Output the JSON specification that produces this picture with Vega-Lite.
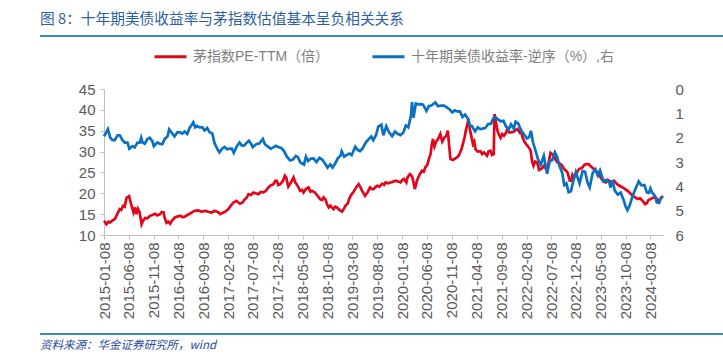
{
  "$schema": "https://vega.github.io/schema/vega-lite/v6.json",
  "padding": {"left": 40, "top": 12, "right": 0, "bottom": 0},
  "background": "white",
  "config": {
    "font": "Liberation Sans, Noto Sans CJK SC",
    "view": {"stroke": null},
    "axis": {"grid": false, "labelFont": "Liberation Sans, Noto Sans CJK SC", "labelColor": "#595959", "labelFontSize": 15, "domainColor": "#BFBFBF", "tickColor": "#BFBFBF"},
    "axisX": {"labelOverlap": false, "labelSeparation": 0},
    "legend": {"layout": {"top": {"anchor": "middle"}}}
  },
  "datasets": {
    "pe": [
      {"d":"2015-01-08","v":13.4},{"d":"2015-01-16","v":13.0},{"d":"2015-01-23","v":12.6},{"d":"2015-02-05","v":13.2},{"d":"2015-02-14","v":13.0},{"d":"2015-03-02","v":13.5},{"d":"2015-03-15","v":13.8},{"d":"2015-03-30","v":15.0},{"d":"2015-04-14","v":16.2},{"d":"2015-04-24","v":16.0},{"d":"2015-05-05","v":17.0},{"d":"2015-05-15","v":16.8},{"d":"2015-05-26","v":18.9},{"d":"2015-06-11","v":19.3},{"d":"2015-06-19","v":18.0},{"d":"2015-06-26","v":17.0},{"d":"2015-07-08","v":15.4},{"d":"2015-07-17","v":16.6},{"d":"2015-07-26","v":15.0},{"d":"2015-08-04","v":16.3},{"d":"2015-08-14","v":15.5},{"d":"2015-08-26","v":12.6},{"d":"2015-09-05","v":13.5},{"d":"2015-09-17","v":14.1},{"d":"2015-10-01","v":14.0},{"d":"2015-10-17","v":14.6},{"d":"2015-11-01","v":14.8},{"d":"2015-11-17","v":15.1},{"d":"2015-12-01","v":14.7},{"d":"2015-12-17","v":15.0},{"d":"2015-12-28","v":15.5},{"d":"2016-01-08","v":15.4},{"d":"2016-01-14","v":14.2},{"d":"2016-01-26","v":12.9},{"d":"2016-02-05","v":13.2},{"d":"2016-02-17","v":12.7},{"d":"2016-03-02","v":13.6},{"d":"2016-03-17","v":14.2},{"d":"2016-04-01","v":14.4},{"d":"2016-04-17","v":14.6},{"d":"2016-05-02","v":14.3},{"d":"2016-05-17","v":14.4},{"d":"2016-06-02","v":14.8},{"d":"2016-06-17","v":15.1},{"d":"2016-07-02","v":15.5},{"d":"2016-07-17","v":15.8},{"d":"2016-08-08","v":15.9},{"d":"2016-08-25","v":15.6},{"d":"2016-09-20","v":15.8},{"d":"2016-10-10","v":15.5},{"d":"2016-10-29","v":15.4},{"d":"2016-11-15","v":15.8},{"d":"2016-11-29","v":15.6},{"d":"2016-12-10","v":15.4},{"d":"2016-12-20","v":15.0},{"d":"2017-01-08","v":15.4},{"d":"2017-01-20","v":15.6},{"d":"2017-02-08","v":16.2},{"d":"2017-02-22","v":17.0},{"d":"2017-03-11","v":17.8},{"d":"2017-03-29","v":18.2},{"d":"2017-04-10","v":17.8},{"d":"2017-04-20","v":17.5},{"d":"2017-05-05","v":17.8},{"d":"2017-05-20","v":18.6},{"d":"2017-06-01","v":19.0},{"d":"2017-06-11","v":19.8},{"d":"2017-06-25","v":19.6},{"d":"2017-07-11","v":20.2},{"d":"2017-07-25","v":20.0},{"d":"2017-08-11","v":19.8},{"d":"2017-08-25","v":20.3},{"d":"2017-09-11","v":20.2},{"d":"2017-09-25","v":20.6},{"d":"2017-10-11","v":21.4},{"d":"2017-10-25","v":21.9},{"d":"2017-11-11","v":22.2},{"d":"2017-11-22","v":23.0},{"d":"2017-12-02","v":23.0},{"d":"2017-12-10","v":22.0},{"d":"2017-12-23","v":22.2},{"d":"2018-01-08","v":23.0},{"d":"2018-01-20","v":24.2},{"d":"2018-01-28","v":23.8},{"d":"2018-02-10","v":21.6},{"d":"2018-02-23","v":22.4},{"d":"2018-03-14","v":23.8},{"d":"2018-03-24","v":22.6},{"d":"2018-04-01","v":22.2},{"d":"2018-04-12","v":21.5},{"d":"2018-04-23","v":20.6},{"d":"2018-05-05","v":20.8},{"d":"2018-05-14","v":20.2},{"d":"2018-05-28","v":21.0},{"d":"2018-06-14","v":21.4},{"d":"2018-06-25","v":20.4},{"d":"2018-07-05","v":20.6},{"d":"2018-07-23","v":20.2},{"d":"2018-08-08","v":19.4},{"d":"2018-08-23","v":18.6},{"d":"2018-09-05","v":18.4},{"d":"2018-09-14","v":19.0},{"d":"2018-09-25","v":18.6},{"d":"2018-10-05","v":17.4},{"d":"2018-10-16","v":16.6},{"d":"2018-10-26","v":17.0},{"d":"2018-11-14","v":16.2},{"d":"2018-11-24","v":16.8},{"d":"2018-12-05","v":16.6},{"d":"2018-12-20","v":16.0},{"d":"2019-01-05","v":15.6},{"d":"2019-01-15","v":16.2},{"d":"2019-01-26","v":17.0},{"d":"2019-02-10","v":17.6},{"d":"2019-02-17","v":18.6},{"d":"2019-03-05","v":19.8},{"d":"2019-03-15","v":20.2},{"d":"2019-03-26","v":21.0},{"d":"2019-04-05","v":21.6},{"d":"2019-04-17","v":22.2},{"d":"2019-04-28","v":21.4},{"d":"2019-05-08","v":20.6},{"d":"2019-05-17","v":20.0},{"d":"2019-05-26","v":19.4},{"d":"2019-06-10","v":20.2},{"d":"2019-06-26","v":21.4},{"d":"2019-07-08","v":21.0},{"d":"2019-07-17","v":21.0},{"d":"2019-07-28","v":21.5},{"d":"2019-08-08","v":21.8},{"d":"2019-08-22","v":21.6},{"d":"2019-09-08","v":22.3},{"d":"2019-09-20","v":22.0},{"d":"2019-09-29","v":22.6},{"d":"2019-10-15","v":22.4},{"d":"2019-10-29","v":22.6},{"d":"2019-11-15","v":22.8},{"d":"2019-11-29","v":23.0},{"d":"2019-12-15","v":22.8},{"d":"2019-12-29","v":22.6},{"d":"2020-01-10","v":23.2},{"d":"2020-01-20","v":23.4},{"d":"2020-02-03","v":22.6},{"d":"2020-02-10","v":23.8},{"d":"2020-02-25","v":24.6},{"d":"2020-03-10","v":24.0},{"d":"2020-03-18","v":22.6},{"d":"2020-03-26","v":21.0},{"d":"2020-04-08","v":23.0},{"d":"2020-04-20","v":24.2},{"d":"2020-05-08","v":25.4},{"d":"2020-05-20","v":25.2},{"d":"2020-05-29","v":26.2},{"d":"2020-06-10","v":26.8},{"d":"2020-06-20","v":28.2},{"d":"2020-07-01","v":29.5},{"d":"2020-07-06","v":31.3},{"d":"2020-07-15","v":33.0},{"d":"2020-07-24","v":31.2},{"d":"2020-08-05","v":32.5},{"d":"2020-08-15","v":33.0},{"d":"2020-08-29","v":34.2},{"d":"2020-09-10","v":32.4},{"d":"2020-09-22","v":33.3},{"d":"2020-10-05","v":33.8},{"d":"2020-10-14","v":35.0},{"d":"2020-10-23","v":31.0},{"d":"2020-10-30","v":28.2},{"d":"2020-11-15","v":28.0},{"d":"2020-12-02","v":28.4},{"d":"2020-12-20","v":29.0},{"d":"2021-01-05","v":30.5},{"d":"2021-01-14","v":31.8},{"d":"2021-01-25","v":33.5},{"d":"2021-02-01","v":35.0},{"d":"2021-02-10","v":36.5},{"d":"2021-02-18","v":37.8},{"d":"2021-02-25","v":35.5},{"d":"2021-03-05","v":34.0},{"d":"2021-03-17","v":31.8},{"d":"2021-03-25","v":32.4},{"d":"2021-04-01","v":30.6},{"d":"2021-04-15","v":30.0},{"d":"2021-05-02","v":30.1},{"d":"2021-05-12","v":29.4},{"d":"2021-05-23","v":29.8},{"d":"2021-06-11","v":29.0},{"d":"2021-06-20","v":30.0},{"d":"2021-07-02","v":30.2},{"d":"2021-07-12","v":29.2},{"d":"2021-07-22","v":29.4},{"d":"2021-07-27","v":39.0},{"d":"2021-08-03","v":37.5},{"d":"2021-08-14","v":35.0},{"d":"2021-08-24","v":34.0},{"d":"2021-09-02","v":33.3},{"d":"2021-09-12","v":34.2},{"d":"2021-09-23","v":33.8},{"d":"2021-10-05","v":34.5},{"d":"2021-10-14","v":35.4},{"d":"2021-10-25","v":34.6},{"d":"2021-11-05","v":34.6},{"d":"2021-11-23","v":34.8},{"d":"2021-12-05","v":35.2},{"d":"2021-12-14","v":35.4},{"d":"2021-12-28","v":34.6},{"d":"2022-01-05","v":35.0},{"d":"2022-01-14","v":33.5},{"d":"2022-01-23","v":32.6},{"d":"2022-02-05","v":31.8},{"d":"2022-02-14","v":31.4},{"d":"2022-02-25","v":30.8},{"d":"2022-03-05","v":30.2},{"d":"2022-03-15","v":27.5},{"d":"2022-03-23","v":26.6},{"d":"2022-04-02","v":27.6},{"d":"2022-04-14","v":27.4},{"d":"2022-04-26","v":25.6},{"d":"2022-05-05","v":25.8},{"d":"2022-05-15","v":26.0},{"d":"2022-05-26","v":26.6},{"d":"2022-06-05","v":26.0},{"d":"2022-06-14","v":25.4},{"d":"2022-06-24","v":27.5},{"d":"2022-07-05","v":29.7},{"d":"2022-07-15","v":29.4},{"d":"2022-07-26","v":29.0},{"d":"2022-08-05","v":28.0},{"d":"2022-08-17","v":27.4},{"d":"2022-09-05","v":27.0},{"d":"2022-09-15","v":26.6},{"d":"2022-09-26","v":25.8},{"d":"2022-10-08","v":25.4},{"d":"2022-10-17","v":25.0},{"d":"2022-10-31","v":23.0},{"d":"2022-11-08","v":23.0},{"d":"2022-11-16","v":24.4},{"d":"2022-11-23","v":23.8},{"d":"2022-12-05","v":24.2},{"d":"2022-12-14","v":25.0},{"d":"2022-12-26","v":25.8},{"d":"2023-01-08","v":26.0},{"d":"2023-01-17","v":26.2},{"d":"2023-01-28","v":26.8},{"d":"2023-02-08","v":27.0},{"d":"2023-02-23","v":27.0},{"d":"2023-03-05","v":26.6},{"d":"2023-03-17","v":26.2},{"d":"2023-04-08","v":25.4},{"d":"2023-04-22","v":24.6},{"d":"2023-05-08","v":23.8},{"d":"2023-05-22","v":23.0},{"d":"2023-06-08","v":22.6},{"d":"2023-06-18","v":23.2},{"d":"2023-06-29","v":23.0},{"d":"2023-07-12","v":22.6},{"d":"2023-07-29","v":23.0},{"d":"2023-08-17","v":22.2},{"d":"2023-09-01","v":21.8},{"d":"2023-09-20","v":21.4},{"d":"2023-10-05","v":21.0},{"d":"2023-10-20","v":20.6},{"d":"2023-11-05","v":20.0},{"d":"2023-11-20","v":19.4},{"d":"2023-12-05","v":19.0},{"d":"2023-12-20","v":18.6},{"d":"2024-01-05","v":18.8},{"d":"2024-01-20","v":18.2},{"d":"2024-02-05","v":17.4},{"d":"2024-02-14","v":17.6},{"d":"2024-02-25","v":18.4},{"d":"2024-03-08","v":18.6},{"d":"2024-03-22","v":18.9},{"d":"2024-04-08","v":19.0},{"d":"2024-04-18","v":18.6},{"d":"2024-04-29","v":18.2},{"d":"2024-05-10","v":18.8},{"d":"2024-05-23","v":19.4}
    ],
    "ust": [
      {"d":"2015-01-08","v":1.95},{"d":"2015-01-20","v":1.8},{"d":"2015-02-01","v":1.65},{"d":"2015-02-15","v":2.0},{"d":"2015-03-01","v":2.1},{"d":"2015-03-15","v":2.1},{"d":"2015-04-01","v":1.9},{"d":"2015-04-15","v":1.9},{"d":"2015-05-01","v":2.1},{"d":"2015-05-15","v":2.2},{"d":"2015-06-01","v":2.2},{"d":"2015-06-12","v":2.45},{"d":"2015-07-01","v":2.35},{"d":"2015-07-15","v":2.4},{"d":"2015-08-01","v":2.2},{"d":"2015-08-15","v":2.2},{"d":"2015-08-24","v":2.0},{"d":"2015-09-01","v":2.2},{"d":"2015-09-15","v":2.25},{"d":"2015-10-01","v":2.05},{"d":"2015-10-15","v":2.0},{"d":"2015-11-01","v":2.15},{"d":"2015-11-09","v":2.35},{"d":"2015-12-01","v":2.2},{"d":"2015-12-15","v":2.25},{"d":"2015-12-31","v":2.27},{"d":"2016-01-15","v":2.05},{"d":"2016-02-01","v":1.95},{"d":"2016-02-11","v":1.66},{"d":"2016-03-01","v":1.83},{"d":"2016-03-15","v":1.95},{"d":"2016-04-01","v":1.78},{"d":"2016-04-15","v":1.77},{"d":"2016-05-01","v":1.83},{"d":"2016-05-15","v":1.75},{"d":"2016-06-01","v":1.85},{"d":"2016-06-15","v":1.6},{"d":"2016-07-01","v":1.45},{"d":"2016-07-08","v":1.37},{"d":"2016-07-20","v":1.58},{"d":"2016-08-01","v":1.52},{"d":"2016-08-15","v":1.58},{"d":"2016-09-01","v":1.57},{"d":"2016-09-15","v":1.7},{"d":"2016-10-01","v":1.6},{"d":"2016-10-15","v":1.77},{"d":"2016-11-01","v":1.83},{"d":"2016-11-15","v":2.22},{"d":"2016-12-01","v":2.45},{"d":"2016-12-15","v":2.6},{"d":"2017-01-01","v":2.45},{"d":"2017-01-15","v":2.38},{"d":"2017-02-01","v":2.48},{"d":"2017-02-15","v":2.45},{"d":"2017-03-01","v":2.45},{"d":"2017-03-13","v":2.62},{"d":"2017-04-01","v":2.35},{"d":"2017-04-17","v":2.2},{"d":"2017-05-01","v":2.32},{"d":"2017-05-15","v":2.33},{"d":"2017-06-01","v":2.2},{"d":"2017-06-14","v":2.13},{"d":"2017-07-01","v":2.3},{"d":"2017-07-07","v":2.39},{"d":"2017-08-01","v":2.25},{"d":"2017-08-15","v":2.25},{"d":"2017-09-07","v":2.05},{"d":"2017-09-20","v":2.27},{"d":"2017-10-05","v":2.35},{"d":"2017-10-25","v":2.45},{"d":"2017-11-10","v":2.4},{"d":"2017-11-25","v":2.33},{"d":"2017-12-10","v":2.38},{"d":"2017-12-28","v":2.42},{"d":"2018-01-15","v":2.55},{"d":"2018-02-01","v":2.78},{"d":"2018-02-21","v":2.94},{"d":"2018-03-10","v":2.9},{"d":"2018-03-28","v":2.75},{"d":"2018-04-10","v":2.8},{"d":"2018-04-25","v":3.02},{"d":"2018-05-17","v":3.11},{"d":"2018-05-29","v":2.78},{"d":"2018-06-12","v":2.96},{"d":"2018-06-29","v":2.86},{"d":"2018-07-15","v":2.85},{"d":"2018-08-01","v":3.0},{"d":"2018-08-20","v":2.83},{"d":"2018-09-05","v":2.9},{"d":"2018-09-25","v":3.08},{"d":"2018-10-08","v":3.23},{"d":"2018-10-25","v":3.1},{"d":"2018-11-08","v":3.23},{"d":"2018-11-25","v":3.05},{"d":"2018-12-10","v":2.85},{"d":"2018-12-28","v":2.73},{"d":"2019-01-03","v":2.56},{"d":"2019-01-18","v":2.78},{"d":"2019-02-05","v":2.7},{"d":"2019-02-20","v":2.65},{"d":"2019-03-05","v":2.72},{"d":"2019-03-27","v":2.37},{"d":"2019-04-10","v":2.5},{"d":"2019-04-25","v":2.55},{"d":"2019-05-10","v":2.45},{"d":"2019-05-30","v":2.2},{"d":"2019-06-15","v":2.08},{"d":"2019-07-03","v":1.95},{"d":"2019-07-15","v":2.1},{"d":"2019-08-01","v":1.9},{"d":"2019-08-15","v":1.55},{"d":"2019-09-03","v":1.47},{"d":"2019-09-15","v":1.9},{"d":"2019-10-03","v":1.53},{"d":"2019-10-20","v":1.78},{"d":"2019-11-08","v":1.94},{"d":"2019-11-25","v":1.75},{"d":"2019-12-10","v":1.83},{"d":"2019-12-28","v":1.9},{"d":"2020-01-15","v":1.8},{"d":"2020-01-31","v":1.5},{"d":"2020-02-15","v":1.58},{"d":"2020-03-02","v":1.1},{"d":"2020-03-09","v":0.54},{"d":"2020-03-18","v":1.18},{"d":"2020-04-01","v":0.6},{"d":"2020-04-15","v":0.63},{"d":"2020-05-01","v":0.62},{"d":"2020-05-15","v":0.64},{"d":"2020-06-05","v":0.9},{"d":"2020-06-20","v":0.7},{"d":"2020-07-05","v":0.68},{"d":"2020-07-30","v":0.55},{"d":"2020-08-15","v":0.71},{"d":"2020-09-01","v":0.68},{"d":"2020-09-20","v":0.68},{"d":"2020-10-10","v":0.77},{"d":"2020-10-25","v":0.84},{"d":"2020-11-10","v":0.96},{"d":"2020-11-25","v":0.88},{"d":"2020-12-10","v":0.92},{"d":"2020-12-28","v":0.93},{"d":"2021-01-12","v":1.15},{"d":"2021-01-28","v":1.05},{"d":"2021-02-12","v":1.2},{"d":"2021-02-25","v":1.5},{"d":"2021-03-10","v":1.52},{"d":"2021-03-30","v":1.74},{"d":"2021-04-15","v":1.58},{"d":"2021-04-30","v":1.65},{"d":"2021-05-15","v":1.63},{"d":"2021-06-01","v":1.6},{"d":"2021-06-18","v":1.44},{"d":"2021-07-05","v":1.43},{"d":"2021-07-20","v":1.2},{"d":"2021-08-04","v":1.17},{"d":"2021-08-20","v":1.26},{"d":"2021-09-03","v":1.33},{"d":"2021-09-20","v":1.31},{"d":"2021-10-05","v":1.53},{"d":"2021-10-21","v":1.68},{"d":"2021-11-05","v":1.45},{"d":"2021-11-22","v":1.63},{"d":"2021-12-03","v":1.34},{"d":"2021-12-20","v":1.42},{"d":"2022-01-05","v":1.7},{"d":"2022-01-20","v":1.83},{"d":"2022-02-10","v":2.03},{"d":"2022-02-25","v":1.97},{"d":"2022-03-07","v":1.72},{"d":"2022-03-20","v":2.2},{"d":"2022-04-05","v":2.55},{"d":"2022-04-20","v":2.9},{"d":"2022-05-06","v":3.12},{"d":"2022-05-25","v":2.75},{"d":"2022-06-14","v":3.48},{"d":"2022-06-30","v":2.97},{"d":"2022-07-15","v":2.93},{"d":"2022-08-01","v":2.6},{"d":"2022-08-15","v":2.8},{"d":"2022-08-31","v":3.2},{"d":"2022-09-15","v":3.45},{"d":"2022-09-27","v":3.95},{"d":"2022-10-10","v":3.88},{"d":"2022-10-24","v":4.24},{"d":"2022-11-07","v":4.2},{"d":"2022-11-20","v":3.83},{"d":"2022-12-07","v":3.42},{"d":"2022-12-20","v":3.68},{"d":"2022-12-30","v":3.88},{"d":"2023-01-18","v":3.37},{"d":"2023-02-02","v":3.4},{"d":"2023-02-17","v":3.85},{"d":"2023-03-02","v":4.05},{"d":"2023-03-20","v":3.45},{"d":"2023-04-06","v":3.3},{"d":"2023-04-20","v":3.55},{"d":"2023-05-04","v":3.35},{"d":"2023-05-26","v":3.8},{"d":"2023-06-10","v":3.74},{"d":"2023-06-30","v":3.84},{"d":"2023-07-07","v":4.05},{"d":"2023-07-19","v":3.75},{"d":"2023-08-03","v":4.18},{"d":"2023-08-21","v":4.34},{"d":"2023-09-08","v":4.26},{"d":"2023-09-28","v":4.6},{"d":"2023-10-06","v":4.8},{"d":"2023-10-19","v":4.98},{"d":"2023-11-01","v":4.8},{"d":"2023-11-15","v":4.5},{"d":"2023-12-01","v":4.2},{"d":"2023-12-27","v":3.8},{"d":"2024-01-12","v":3.95},{"d":"2024-01-31","v":3.95},{"d":"2024-02-15","v":4.25},{"d":"2024-02-28","v":4.27},{"d":"2024-03-08","v":4.08},{"d":"2024-03-20","v":4.27},{"d":"2024-04-05","v":4.39},{"d":"2024-04-16","v":4.66},{"d":"2024-04-30","v":4.68},{"d":"2024-05-10","v":4.5},{"d":"2024-05-22","v":4.42}
    ]
  },
  "resolve": {"scale": {"color": "independent"}, "legend": {"color": "independent"}},
  "spacing": -2,
  "vconcat": [
    {
      "data": {"values": [{}]},
      "mark": {"type": "text"},
      "encoding": {},
      "width": 683,
      "height": 2,
      "view": {"fill": "#3A88C8", "stroke": null},
      "title": {"text": "图 8：十年期美债收益率与茅指数估值基本呈负相关关系", "anchor": "start", "fontSize": 14.7, "fontWeight": "normal", "color": "#2E5FA3", "offset": 3, "font": "Noto Sans CJK SC"}
    },
    {
      "spacing": 9,
      "resolve": {"scale": {"color": "independent"}, "legend": {"color": "independent"}},
      "vconcat": [
        {
          "spacing": 37,
          "resolve": {"scale": {"color": "independent"}, "legend": {"color": "independent"}},
          "hconcat": [
            {
              "data": {"values": [{}]},
              "mark": {"type": "text"},
              "encoding": {},
              "width": 1,
              "height": 1
            },
            {
              "width": 559,
              "height": 146,
              "resolve": {"scale": {"y": "independent"}},
              "layer": [
                {
                  "data": {"name": "pe"},
                  "mark": {"type": "line", "strokeWidth": 2.7, "interpolate": "linear"},
                  "encoding": {
                    "x": {"field": "d", "type": "temporal",
                      "scale": {"type": "utc", "domain": [{"year": 2015, "month": 1, "date": 8, "utc": true}, {"year": 2024, "month": 5, "date": 24, "utc": true}]},
                      "axis": {"title": null, "format": "%Y-%m-%d", "labelAngle": -90, "labelPadding": 3, "tickSize": 4, "tickCount": 50, "labelOverlap": false, "labelSeparation": 0, "labelColor": "#595959",
                        "values": [
                          {"year":2015,"month":1,"date":8,"utc":true},{"year":2015,"month":6,"date":8,"utc":true},{"year":2015,"month":11,"date":8,"utc":true},
                          {"year":2016,"month":4,"date":8,"utc":true},{"year":2016,"month":9,"date":8,"utc":true},{"year":2017,"month":2,"date":8,"utc":true},
                          {"year":2017,"month":7,"date":8,"utc":true},{"year":2017,"month":12,"date":8,"utc":true},{"year":2018,"month":5,"date":8,"utc":true},
                          {"year":2018,"month":10,"date":8,"utc":true},{"year":2019,"month":3,"date":8,"utc":true},{"year":2019,"month":8,"date":8,"utc":true},
                          {"year":2020,"month":1,"date":8,"utc":true},{"year":2020,"month":6,"date":8,"utc":true},{"year":2020,"month":11,"date":8,"utc":true},
                          {"year":2021,"month":4,"date":8,"utc":true},{"year":2021,"month":9,"date":8,"utc":true},{"year":2022,"month":2,"date":8,"utc":true},
                          {"year":2022,"month":7,"date":8,"utc":true},{"year":2022,"month":12,"date":8,"utc":true},{"year":2023,"month":5,"date":8,"utc":true},
                          {"year":2023,"month":10,"date":8,"utc":true},{"year":2024,"month":3,"date":8,"utc":true}
                        ]}},
                    "y": {"field": "v", "type": "quantitative", "scale": {"domain": [10, 45], "nice": false, "zero": false},
                      "axis": {"orient": "left", "values": [10, 15, 20, 25, 30, 35, 40, 45], "tickSize": 4, "labelPadding": 5, "title": null}},
                    "color": {"datum": "茅指数PE-TTM（倍）", "type": "nominal",
                      "scale": {"domain": ["茅指数PE-TTM（倍）", "十年期美债收益率-逆序（%）,右"], "range": ["#E1061B", "#0A70C2"]},
                      "legend": {"orient": "top", "direction": "horizontal", "title": null, "symbolType": "stroke", "symbolSize": 1024, "symbolStrokeWidth": 3, "labelFontSize": 14, "labelLimit": 400, "labelColor": "#7F7F7F", "labelFont": "Liberation Sans, Noto Sans CJK SC", "columnPadding": 36, "labelOffset": 5, "offset": 25, "padding": 0}}
                  }
                },
                {
                  "data": {"name": "ust"},
                  "mark": {"type": "line", "strokeWidth": 2.7, "interpolate": "linear"},
                  "encoding": {
                    "x": {"field": "d", "type": "temporal", "axis": {"labelOverlap": false, "tickCount": 50}},
                    "y": {"field": "v", "type": "quantitative", "scale": {"domain": [0, 6], "reverse": true, "nice": false},
                      "axis": {"orient": "right", "values": [0, 1, 2, 3, 4, 5, 6], "domain": false, "ticks": false, "labelPadding": 12, "title": null}},
                    "color": {"datum": "十年期美债收益率-逆序（%）,右", "type": "nominal"}
                  }
                }
              ]
            }
          ]
        },
        {
          "data": {"values": [{}]},
          "mark": {"type": "text"},
          "encoding": {},
          "width": 683,
          "height": 2,
          "view": {"fill": "#3A88C8", "stroke": null},
          "title": {"text": "资料来源：华金证券研究所，wind", "orient": "bottom", "anchor": "start", "fontSize": 11.5, "fontStyle": "italic", "fontWeight": "normal", "color": "#2A4A9A", "offset": 1, "font": "Noto Sans CJK SC"}
        }
      ]
    }
  ]
}
